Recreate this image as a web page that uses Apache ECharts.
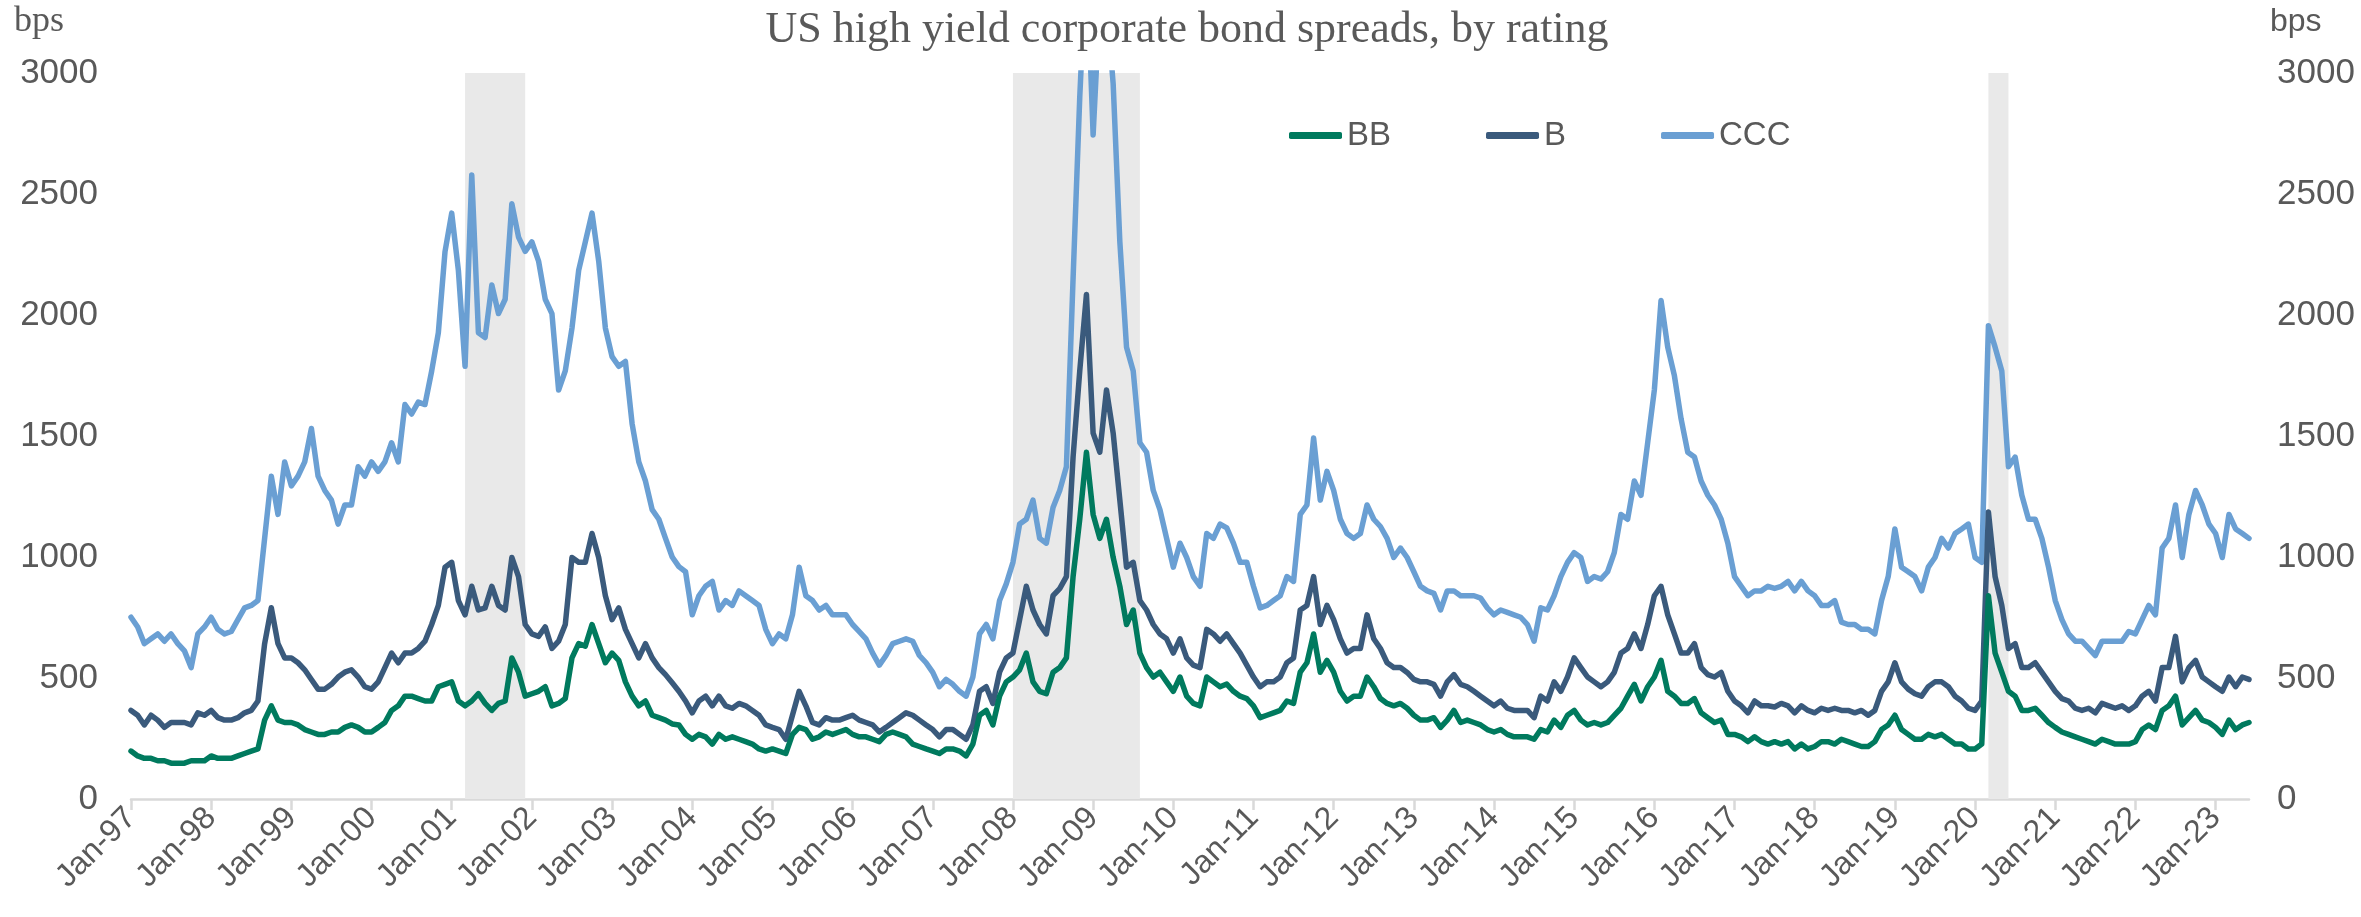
<!DOCTYPE html>
<html><head><meta charset="utf-8">
<script src="https://cdn.jsdelivr.net/npm/echarts@6/dist/echarts.min.js"></script>
<style>html,body{margin:0;padding:0;background:#fff}#c{width:2361px;height:917px}</style>
</head><body><div id="c"></div>
<script>
// Monthly observations, Jan-97 .. Jun-23
const monthNames = ['Jan','Feb','Mar','Apr','May','Jun','Jul','Aug','Sep','Oct','Nov','Dec'];
const firstYear = 1997, lastYear = 2023, lastMonth = 6;
const categories = [];
for (let y = firstYear; y <= lastYear; y++) {
  for (let m = 0; m < 12; m++) {
    if (y === lastYear && m >= lastMonth) break;
    categories.push(monthNames[m] + '-' + String(y % 100).padStart(2, '0'));
  }
}

const seriesBB = [
  198,178,168,168,158,158,148,148,148,158,158,158,
  178,168,168,168,178,188,198,207,326,385,326,316,
  316,306,287,277,267,267,277,277,296,306,296,277,
  277,296,316,366,385,425,425,415,405,405,464,474,
  484,405,385,405,435,395,366,395,405,583,524,425,
  435,445,464,385,395,415,583,642,632,721,642,563,
  603,573,484,425,385,405,346,336,326,310,306,267,
  247,267,257,227,267,247,257,247,237,227,207,198,
  207,198,188,267,296,287,247,257,277,267,277,287,
  267,257,257,247,237,267,277,267,257,227,217,207,
  198,188,207,207,198,178,227,346,366,306,425,484,
  504,534,603,484,445,435,524,543,583,919,1156,1433,
  1176,1077,1156,998,879,721,781,603,543,504,524,484,
  445,504,425,395,385,504,484,464,475,445,425,415,
  385,336,346,356,366,405,395,524,563,682,524,573,
  524,445,405,425,425,504,464,415,395,385,395,375,
  346,326,326,336,296,326,366,316,326,316,306,287,
  277,287,267,257,257,257,247,287,277,326,296,346,
  366,326,306,316,306,316,346,375,425,474,405,464,
  504,573,445,425,395,395,415,356,336,316,326,267,
  267,257,237,257,237,227,237,227,237,207,227,207,
  217,237,237,227,247,237,227,217,217,237,287,306,
  346,287,267,247,247,267,257,267,247,227,227,207,
  207,227,840,603,524,445,425,366,366,375,346,316,
  296,277,267,257,247,237,227,247,237,227,227,227,
  237,287,306,287,366,385,425,306,336,366,326,316,
  296,267,326,287,306,316
];

const seriesB = [
  366,346,306,346,326,296,316,316,316,306,356,346,
  366,336,326,326,336,356,366,405,642,790,642,583,
  583,563,534,494,454,454,474,504,524,534,504,464,
  454,484,543,603,563,603,603,622,652,721,800,958,
  978,820,761,879,781,790,879,800,781,998,919,721,
  682,672,711,622,652,721,998,978,978,1097,998,840,
  741,790,701,642,583,642,583,543,514,480,445,405,
  356,405,425,385,425,385,375,395,385,366,346,306,
  296,287,247,346,445,385,316,306,336,326,326,336,
  346,326,316,306,277,296,316,336,356,346,326,306,
  287,257,287,287,267,247,306,445,464,395,524,583,
  603,741,879,781,721,682,840,869,919,1413,1769,2085,
  1512,1433,1690,1512,1235,958,978,820,781,721,682,662,
  603,662,583,553,543,701,682,652,682,642,603,553,
  504,464,484,484,504,563,583,781,800,919,721,800,
  741,662,603,622,622,761,662,622,563,543,543,523,
  494,484,484,474,425,484,514,474,464,445,425,405,
  385,405,375,366,366,366,336,425,405,484,445,504,
  583,543,504,484,464,484,523,603,622,682,622,721,
  840,879,761,682,603,603,642,543,514,504,523,445,
  405,385,356,405,385,385,380,395,385,356,385,366,
  356,375,366,375,366,366,356,366,346,366,445,484,
  563,484,454,435,425,464,484,484,464,425,405,375,
  366,405,1186,919,800,622,642,543,543,563,523,484,
  445,415,405,375,366,375,356,395,385,375,385,366,
  385,425,445,405,543,543,672,484,543,573,504,484,
  464,445,504,464,504,494
];

const seriesCCC = [
  751,711,642,662,682,652,682,642,612,543,682,711,
  751,701,682,692,741,790,800,820,1077,1334,1176,1393,
  1294,1334,1393,1531,1334,1275,1235,1136,1215,1215,1373,1334,
  1393,1354,1393,1472,1393,1630,1591,1640,1630,1768,1927,2262,
  2421,2184,1788,2579,1927,1907,2124,2006,2065,2460,2322,2263,
  2302,2223,2065,2006,1690,1769,1946,2184,2302,2421,2223,1946,
  1828,1788,1808,1551,1393,1314,1196,1156,1077,1000,960,939,
  761,840,879,899,781,820,800,860,840,820,800,701,
  642,682,662,761,958,840,820,781,800,761,761,761,
  721,692,662,603,553,593,642,652,662,652,593,563,
  523,464,494,474,445,425,504,682,721,662,820,889,
  978,1136,1156,1235,1077,1057,1205,1275,1373,2150,2900,3500,
  2744,3300,3300,2955,2302,1867,1769,1472,1433,1275,1196,1077,
  958,1057,998,919,879,1097,1077,1136,1120,1057,978,978,
  879,790,800,820,840,919,899,1176,1215,1492,1235,1354,
  1275,1156,1097,1077,1097,1215,1156,1126,1077,998,1037,998,
  939,879,860,850,781,860,860,840,840,840,830,790,
  761,781,771,761,751,721,652,790,781,840,919,978,
  1018,998,899,919,909,939,1018,1176,1156,1314,1255,1472,
  1690,2060,1867,1749,1571,1433,1413,1314,1255,1215,1156,1057,
  919,879,840,860,860,879,870,879,899,860,899,860,
  840,800,800,820,731,721,721,701,701,682,820,919,
  1116,958,939,919,860,958,998,1077,1037,1097,1116,1136,
  998,978,1956,1867,1769,1373,1413,1255,1156,1156,1077,958,
  820,741,682,652,652,622,593,652,652,652,652,692,
  682,741,800,761,1037,1077,1215,998,1176,1275,1215,1136,
  1097,998,1176,1116,1097,1077
];

const recessions = [['Mar-01','Dec-01'],['Jan-08','Aug-09'],['Mar-20','Jun-20']];
const yTicks = { min: 0, max: 3000, step: 500 };
const titleText = 'US high yield corporate bond spreads, by rating';
const unitLabel = 'bps';

const gray = '#595959';
const chart = echarts.init(document.getElementById('c'));
const isJan = (i) => i % 12 === 0;

const lineSeries = (name, data, color) => ({
  name, type: 'line', data, symbol: 'none', showSymbol: false, z: 3,
  lineStyle: { color, width: 5.5, cap: 'round', join: 'round' },
  itemStyle: { color }, animation: false
});

chart.setOption({
  animation: false,
  backgroundColor: '#fff',
  grid: { left: 131, right: 112, top: 73, bottom: 118, containLabel: false },
  legend: {
    data: ['BB','B','CCC'], left: 1284, top: 114, icon: 'roundRect',
    itemWidth: 53, itemHeight: 7, itemGap: 95,
    textStyle: { fontSize: 33, color: gray, fontFamily: 'Liberation Sans' }
  },
  graphic: [
    { type: 'text', x: 1187, y: 30, style: { text: titleText, font: '44px "Liberation Serif"', fill: gray, align: 'center', verticalAlign: 'middle' } },
    { type: 'text', left: 14, top: 4, style: { text: unitLabel, font: '36px "Liberation Serif"', fill: gray } },
    { type: 'text', left: 2270, top: 6, style: { text: unitLabel, font: '32px "Liberation Sans"', fill: gray } }
  ],
  xAxis: {
    type: 'category', data: categories, boundaryGap: false,
    axisLine: { lineStyle: { color: '#d9d9d9', width: 2.5 } },
    axisTick: { show: true, interval: isJan, length: 11, lineStyle: { color: '#d9d9d9', width: 2.5 } },
    axisLabel: { interval: isJan, rotate: 45, fontSize: 32, color: gray, fontFamily: 'Liberation Sans', margin: 14 },
    splitLine: { show: false }
  },
  yAxis: [
    { type: 'value', min: yTicks.min, max: yTicks.max, interval: yTicks.step, position: 'left',
      axisLine: { show: false }, axisTick: { show: false }, splitLine: { show: false },
      axisLabel: { fontSize: 35, color: gray, fontFamily: 'Liberation Sans', margin: 33, formatter: (v) => String(v) } },
    { type: 'value', min: yTicks.min, max: yTicks.max, interval: yTicks.step, position: 'right',
      axisLine: { show: false }, axisTick: { show: false }, splitLine: { show: false },
      axisLabel: { fontSize: 35, color: gray, fontFamily: 'Liberation Sans', margin: 28, formatter: (v) => String(v) } }
  ],
  series: [
    { name: 'recession', type: 'line', data: [], silent: true, z: 1,
      markArea: { silent: true, itemStyle: { color: '#e9e9e9' },
        data: recessions.map(r => [{ xAxis: r[0] }, { xAxis: r[1] }]) } },
    lineSeries('CCC', seriesCCC, '#6A9FD3'),
    lineSeries('B', seriesB, '#3A5A7C'),
    lineSeries('BB', seriesBB, '#007A5E')
  ]
});
</script></body></html>
